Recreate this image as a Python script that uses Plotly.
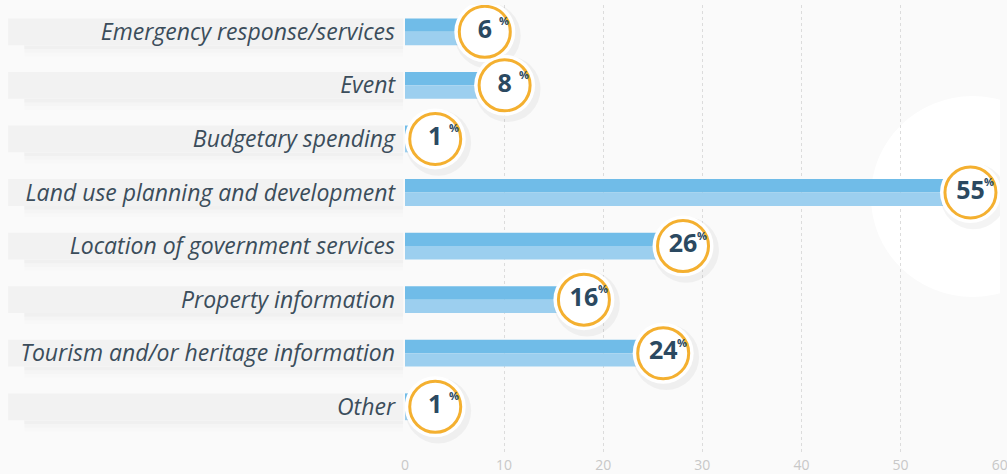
import plotly.graph_objects as go

categories = [
    "Emergency response/services",
    "Event",
    "Budgetary spending",
    "Land use planning and development",
    "Location of government services",
    "Property information",
    "Tourism and/or heritage information",
    "Other",
]
values = [6, 8, 1, 55, 26, 16, 24, 1]
x_ticks = [0, 10, 20, 30, 40, 50, 60]

idx = list(range(len(categories)))
badge_offset = 2.05  # badge sits just beyond bar end (data units)
badge_x = [v + badge_offset for v in values]

NAVY = "#2B4961"
LABEL = "#3B4D5B"

fig = go.Figure()

# two-tone bars: darker top half, lighter bottom half
fig.add_trace(go.Bar(
    y=idx, x=values, orientation="h", width=0.25, offset=-0.25,
    marker=dict(color="#70BCE8", line=dict(width=0)), hoverinfo="skip", showlegend=False,
))
fig.add_trace(go.Bar(
    y=idx, x=values, orientation="h", width=0.25, offset=0.0,
    marker=dict(color="#9CCFEF", line=dict(width=0)), hoverinfo="skip", showlegend=False,
))

# badge shadow
fig.add_trace(go.Scatter(
    x=[b + 0.3 for b in badge_x], y=[i + 0.07 for i in idx], mode="markers",
    marker=dict(size=66, color="rgba(0,0,0,0.045)", line=dict(width=0)),
    hoverinfo="skip", showlegend=False,
))
# white outer ring
fig.add_trace(go.Scatter(
    x=badge_x, y=idx, mode="markers",
    marker=dict(size=61, color="white", line=dict(width=0)),
    hoverinfo="skip", showlegend=False,
))
# orange ring with number
fig.add_trace(go.Scatter(
    x=badge_x, y=idx, mode="markers+text",
    marker=dict(size=51, color="white", line=dict(width=3, color="#F4B030")),
    text=[f"<b>{v}</b>" for v in values], textposition="middle center",
    textfont=dict(family="Open Sans", size=25, color=NAVY),
    hoverinfo="skip", showlegend=False,
))

annotations = []
for bx, i in zip(badge_x, idx):
    annotations.append(dict(
        x=bx, y=i, xref="x", yref="y", text="<b>%</b>", showarrow=False,
        xshift=19, yshift=11, font=dict(family="Open Sans", size=11, color=NAVY),
    ))

shapes = []
# big white disc in the background at right
shapes.append(dict(type="circle", xref="x", yref="y", x0=47.0, x1=67.5, y0=1.2, y1=4.95,
                   fillcolor="white", line=dict(width=0), layer="below"))
# label bands and their soft shadows
for i in idx:
    for k, a in enumerate([0.018, 0.012, 0.007]):
        shapes.append(dict(type="rect", xref="paper", yref="y", x0=-0.64, x1=-0.003,
                           y0=i + 0.25, y1=i + 0.32 + 0.07 * k, fillcolor=f"rgba(0,0,0,{a})",
                           line=dict(width=0), layer="below"))
    shapes.append(dict(type="rect", xref="paper", yref="y", x0=-0.667, x1=-0.003,
                       y0=i - 0.25, y1=i + 0.25, fillcolor="#F2F2F2",
                       line=dict(width=0), layer="below"))

fig.update_layout(
    width=1007, height=474,
    margin=dict(l=405, r=7, t=5, b=19),
    paper_bgcolor="#FAFAFA", plot_bgcolor="rgba(0,0,0,0)",
    barmode="overlay",
    shapes=shapes, annotations=annotations,
    xaxis=dict(range=[0, 60.03], tickvals=x_ticks, showgrid=True, gridcolor="#DCDCDC",
               griddash="dot", gridwidth=1, zeroline=False, showline=False, automargin=False,
               ticklabeloverflow="allow",
               tickfont=dict(family="Open Sans", size=14, color="#C8C8C8"), fixedrange=True),
    yaxis=dict(range=[7.9, -0.5], tickvals=idx, ticktext=categories, showgrid=False,
               zeroline=False, showline=False, ticks="", ticklabelstandoff=9, automargin=False,
               tickfont=dict(family="Open Sans", size=23, color=LABEL, style="italic"),
               fixedrange=True),
)

fig.write_html("out.html", config={"displayModeBar": False},
               post_script="document.body.style.margin='0';")
